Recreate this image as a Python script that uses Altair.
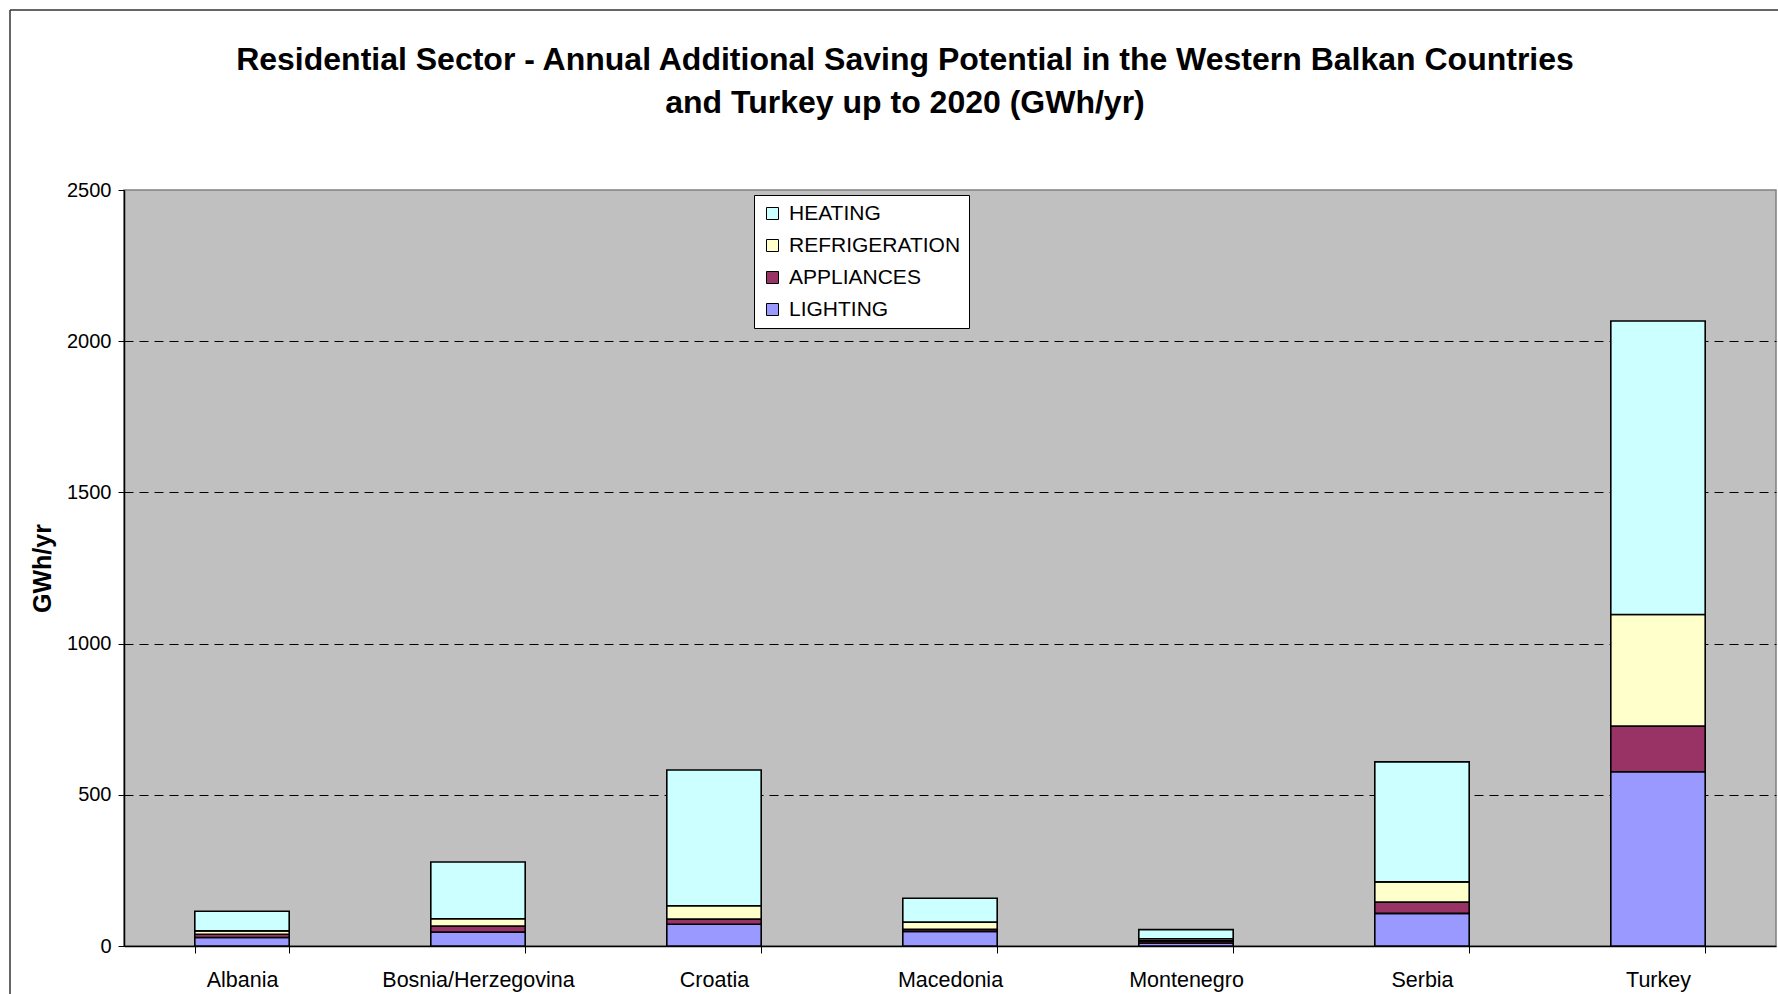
import altair as alt
import pandas as pd

countries = ["Albania", "Bosnia/Herzegovina", "Croatia", "Macedonia",
             "Montenegro", "Serbia", "Turkey"]
legend_order = ["HEATING", "REFRIGERATION", "APPLIANCES", "LIGHTING"]
legend_colors = ["#CCFFFF", "#FFFFCC", "#993366", "#9999FF"]
stack_order = ["LIGHTING", "APPLIANCES", "REFRIGERATION", "HEATING"]

lighting = [28, 46, 72, 48, 10, 108, 576]
appliances = [11, 20, 17, 7, 7, 37, 151]
refrigeration = [11, 24, 44, 24, 7, 67, 369]
heating = [65, 188, 449, 79, 30, 397, 971]

y_ticks = [0, 500, 1000, 1500, 2000, 2500]

title_lines = [
    "Residential Sector - Annual Additional Saving Potential in the Western Balkan Countries",
    "and Turkey up to 2020 (GWh/yr)",
]

series = {"LIGHTING": lighting, "APPLIANCES": appliances,
          "REFRIGERATION": refrigeration, "HEATING": heating}
rows = []
for i, c in enumerate(countries):
    for k, name in enumerate(stack_order):
        rows.append({"country": c, "use": name, "value": series[name][i], "ord": k})
df = pd.DataFrame(rows)

FONT = "Liberation Sans"

bars = alt.Chart(df).mark_bar(stroke="black", strokeWidth=1.6).encode(
    x=alt.X("country:N", sort=countries,
            scale=alt.Scale(paddingInner=0.6, paddingOuter=0.3),
            axis=alt.Axis(title=None, labelAngle=0, tickBand="extent", tickSize=7,
                          tickColor="black", domainColor="black", domainWidth=1.5,
                          labelFontSize=21.5, labelFont=FONT, labelColor="black",
                          labelPadding=16, labelLimit=400, grid=False)),
    y=alt.Y("value:Q", stack="zero",
            scale=alt.Scale(domain=[0, 2500], nice=False),
            axis=alt.Axis(values=y_ticks, format="d", grid=True, gridColor="black",
                          gridDash=[9, 6], gridWidth=1,
                          gridOpacity={"condition": {"test": "datum.value > 0 && datum.value < 2500", "value": 1}, "value": 0},
                          domainColor="black", domainWidth=1.5, tickColor="black", tickSize=6,
                          labelPadding=7, labelFontSize=20, labelFont=FONT, labelColor="black",
                          title="GWh/yr", titleFont=FONT, titleFontSize=25, titleFontWeight="bold",
                          titleColor="black", titleAngle=270, titleX=-82, titleY=378,
                          titleAlign="center", titleBaseline="middle")),
    color=alt.Color("use:N",
                    scale=alt.Scale(domain=legend_order, range=legend_colors),
                    legend=alt.Legend(title=None, orient="none", legendX=630, legendY=5,
                                      fillColor="white", strokeColor="black", padding=8,
                                      symbolType="square", symbolSize=144,
                                      symbolStrokeColor="black", symbolStrokeWidth=1,
                                      labelFontSize=21, labelFont=FONT, labelColor="black",
                                      labelOffset=6, rowPadding=10, labelLimit=400)),
    order=alt.Order("ord:Q", sort="ascending"),
)

frame_df = pd.DataFrame({"k": [0]})
left_rule = alt.Chart(frame_df).mark_rule(color="#333333", strokeWidth=1.5).encode(
    x=alt.value(-114), y=alt.value(-180), y2=alt.value(900))
top_rule = alt.Chart(frame_df).mark_rule(color="#333333", strokeWidth=1.5).encode(
    x=alt.value(-114), x2=alt.value(1700), y=alt.value(-180))

chart = alt.layer(bars, left_rule, top_rule).properties(
    width=1652, height=756,
    padding={"left": 124, "top": 190, "right": 2, "bottom": 48},
    autosize=alt.AutoSizeParams(type="none"),
    background="white",
    title=alt.TitleParams(text=title_lines, fontSize=32, font=FONT, fontWeight="bold",
                          color="black", anchor="middle", dx=-45, offset=-111,
                          lineHeight=43, baseline="top"),
).configure_view(fill="#C0C0C0", stroke="#808080", strokeWidth=1.5)

chart.save("out.html", embed_options={"renderer": "svg", "actions": False})
